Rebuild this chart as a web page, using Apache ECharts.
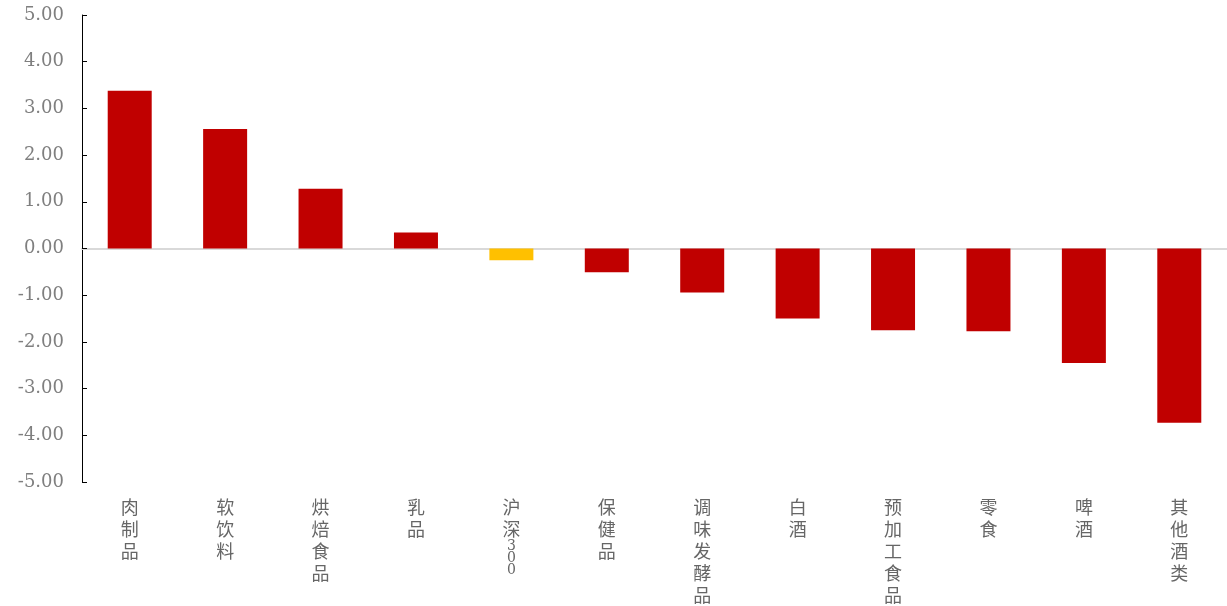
<!DOCTYPE html>
<html>
<head>
<meta charset="utf-8">
<script src="https://cdn.jsdelivr.net/npm/echarts@6/dist/echarts.min.js"></script>
<style>
  html, body { margin: 0; padding: 0; background: #fff; }
  #chart { width: 1227px; height: 606px; }
</style>
</head>
<body>
<div id="chart"></div>
<script>
// Sector returns (%), sorted from best to worst
const categories = ['肉制品', '软饮料', '烘焙食品', '乳品', '沪深300', '保健品', '调味发酵品', '白酒', '预加工食品', '零食', '啤酒', '其他酒类'];
const values = [3.38, 2.56, 1.28, 0.34, -0.25, -0.51, -0.94, -1.50, -1.75, -1.77, -2.45, -3.73];
const benchmark = '沪深300';
const yTicks = { min: -5, max: 5, interval: 1 };

const RED = '#C00000';
const GOLD = '#FFC000';

// Vertical labels: one character per line, digits stacked tightly
function verticalLabel(name) {
  const parts = [];
  let digits = '';
  for (const ch of name) {
    if (/[0-9]/.test(ch)) { digits += ch; continue; }
    parts.push(ch);
  }
  let out = parts.join('\n');
  if (digits) {
    out += '\n' + digits.split('').map(d => '{d|' + d + '}').join('\n');
  }
  return out;
}

const chart = echarts.init(document.getElementById('chart'));
chart.setOption({
  animation: false,
  backgroundColor: '#ffffff',
  grid: { left: 82, right: 0, top: 15, bottom: 123, containLabel: false },
  xAxis: {
    type: 'category',
    data: categories,
    axisLine: { onZero: true, lineStyle: { color: '#d9d9d9', width: 2 } },
    axisTick: { show: false },
    axisLabel: {
      interval: 0,
      margin: 14,
      verticalAlign: 'top',
      color: '#666666',
      fontFamily: 'Noto Sans CJK SC',
      fontSize: 18,
      lineHeight: 22,
      formatter: verticalLabel,
      rich: {
        d: { fontFamily: 'DejaVu Serif', fontSize: 14, lineHeight: 12, color: '#666666' }
      }
    }
  },
  yAxis: {
    type: 'value',
    min: yTicks.min,
    max: yTicks.max,
    interval: yTicks.interval,
    axisLine: { show: true, onZero: false, lineStyle: { color: '#000000', width: 1 } },
    axisTick: { show: true, inside: true, length: 5, lineStyle: { color: '#000000' } },
    splitLine: { show: false },
    axisLabel: {
      margin: 18,
      color: '#7f7f7f',
      fontFamily: 'DejaVu Serif',
      fontSize: 18,
      formatter: v => v.toFixed(2)
    }
  },
  series: [{
    type: 'bar',
    barWidth: 44,
    data: values.map((v, i) => ({
      value: v,
      itemStyle: { color: categories[i] === benchmark ? GOLD : RED }
    }))
  }]
});
</script>
</body>
</html>
